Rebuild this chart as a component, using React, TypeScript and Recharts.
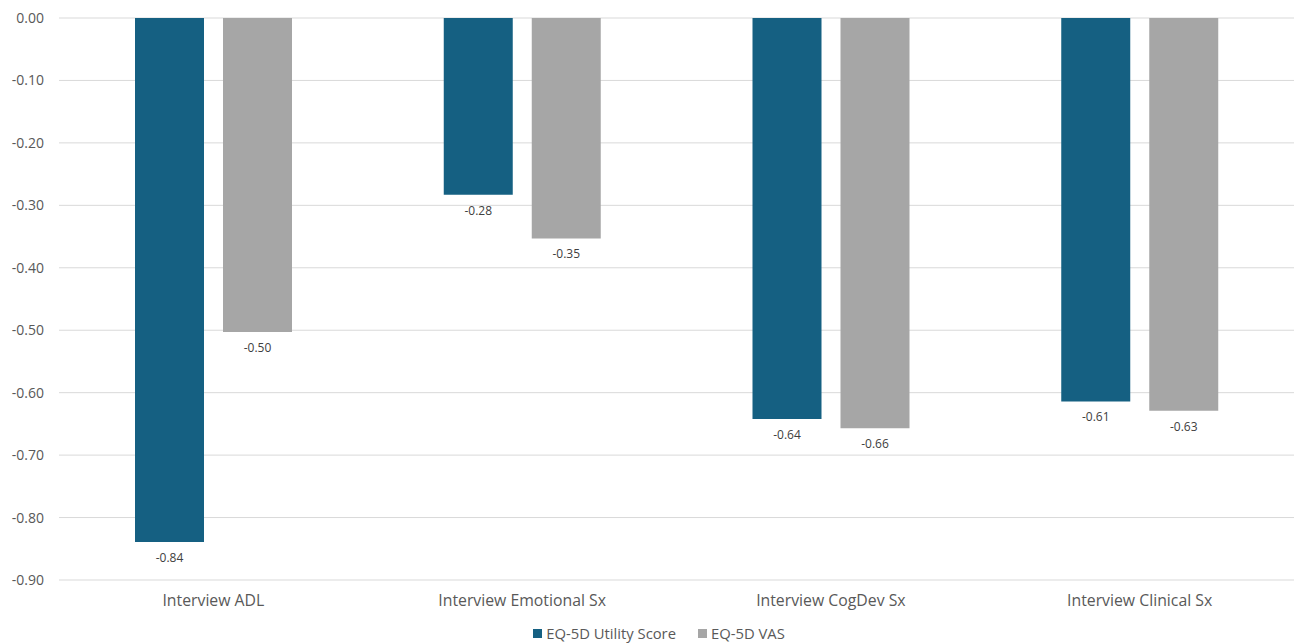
import React from 'react';
import { BarChart, Bar, XAxis, YAxis, CartesianGrid, Legend, LabelList } from 'recharts';

const categories = ['Interview ADL', 'Interview Emotional Sx', 'Interview CogDev Sx', 'Interview Clinical Sx'];
const utilityScore = [-0.839, -0.283, -0.642, -0.614];
const vasScore = [-0.503, -0.353, -0.657, -0.629];
const yTicks = [0, -0.1, -0.2, -0.3, -0.4, -0.5, -0.6, -0.7, -0.8, -0.9];

const seriesNames = ['EQ-5D Utility Score', 'EQ-5D VAS'];
const colors = ['#156082', '#A6A6A6'];

const data = categories.map((c, i) => ({ name: c, utility: utilityScore[i], vas: vasScore[i] }));

const FONT = '"Open Sans", "Noto Sans", sans-serif';

const renderLabel = (props: any) => {
  const { x, y, width, height, value } = props;
  const bottom = Math.max(Number(y), Number(y) + Number(height));
  return (
    <text x={Number(x) + Number(width) / 2} y={bottom + 20} textAnchor="middle" fontSize={12} fill="#404040" fontFamily={FONT}>
      {Number(value).toFixed(2)}
    </text>
  );
};

const renderLegend = () => (
  <div style={{ display: 'flex', justifyContent: 'center', alignItems: 'center', height: 20, paddingLeft: 24, boxSizing: 'border-box', fontFamily: FONT, fontSize: 14.8, color: '#595959' }}>
    {seriesNames.map((n, i) => (
      <div key={n} style={{ display: 'flex', alignItems: 'center', marginLeft: i === 0 ? 0 : 22 }}>
        <div style={{ width: 9, height: 9, background: colors[i], marginRight: 4 }} />
        <span>{n}</span>
      </div>
    ))}
  </div>
);

export default function App() {
  return (
    <div style={{ position: 'absolute', left: 0, top: 0, width: 1294, height: 643, background: '#fff' }}>
      <BarChart width={1294} height={643} data={data} margin={{ top: 18, right: 0, left: 0, bottom: 0 }} barSize={69} barGap={19}>
        <CartesianGrid vertical={false} stroke="#D9D9D9" strokeWidth={1} />
        <XAxis dataKey="name" orientation="bottom" axisLine={false} tickLine={false} height={43} tickMargin={9}
          tick={{ fontSize: 15.8, fill: '#595959', fontFamily: FONT }} interval={0} />
        <YAxis domain={[-0.9, 0]} ticks={yTicks} width={59} axisLine={false} tickLine={false} tickMargin={9}
          tickFormatter={(v: number) => v.toFixed(2)} tick={{ fontSize: 14, fill: '#595959', fontFamily: FONT }} />
        <Legend verticalAlign="bottom" content={renderLegend} wrapperStyle={{ bottom: 0, left: 0, width: 1294, height: 20 }} />
        <Bar dataKey="utility" name={seriesNames[0]} fill={colors[0]} isAnimationActive={false}>
          <LabelList dataKey="utility" content={renderLabel} />
        </Bar>
        <Bar dataKey="vas" name={seriesNames[1]} fill={colors[1]} isAnimationActive={false}>
          <LabelList dataKey="vas" content={renderLabel} />
        </Bar>
      </BarChart>
    </div>
  );
}
